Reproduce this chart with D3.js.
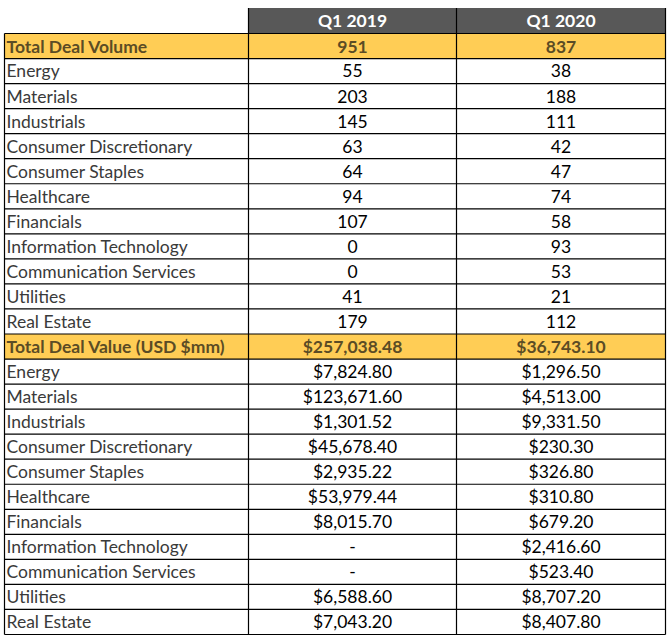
<!DOCTYPE html>
<html><head><meta charset="utf-8">
<script src="https://cdn.jsdelivr.net/npm/d3@7"></script>
<style>body{margin:0;background:#fff;}svg{display:block;}</style>
</head><body>
<script>
const periods = ["Q1 2019", "Q1 2020"];
const sectors = ["Energy","Materials","Industrials","Consumer Discretionary","Consumer Staples","Healthcare","Financials","Information Technology","Communication Services","Utilities","Real Estate"];
const volumeTotal = [951, 837];
const volume2019 = [55,203,145,63,64,94,107,0,0,41,179];
const volume2020 = [38,188,111,42,47,74,58,93,53,21,112];
const valueTotal = [257038.48, 36743.10];
const value2019 = [7824.80,123671.60,1301.52,45678.40,2935.22,53979.44,8015.70,null,null,6588.60,7043.20];
const value2020 = [1296.50,4513.00,9331.50,230.30,326.80,310.80,679.20,2416.60,523.40,8707.20,8407.80];

const fmtVal = v => v == null ? "-" : "$" + d3.format(",.2f")(v);
const fmtVol = v => d3.format(",")(v);

const rows = [];
rows.push({label:"Total Deal Volume", vals: volumeTotal.map(fmtVol), total:true});
sectors.forEach((s,i)=>rows.push({label:s, vals:[fmtVol(volume2019[i]), fmtVol(volume2020[i])]}));
rows.push({label:"Total Deal Value (USD $mm)", vals: valueTotal.map(fmtVal), total:true});
sectors.forEach((s,i)=>rows.push({label:s, vals:[fmtVal(value2019[i]), fmtVal(value2020[i])]}));

const W=670,H=644;
const svg=d3.select("body").append("svg").attr("width",W).attr("height",H);
const xLeft=4.5, c1=248.5, c2=456.5, xRight=665.5;
const yTop=8, headBottom=33.5, yBottom=634.5;
const y=d3.scaleBand().domain(d3.range(rows.length)).range([headBottom,yBottom]);
const colX=d3.scaleOrdinal().domain([0,1]).range([[c1,c2],[c2,xRight]]);
const font="Lato, 'Open Sans', sans-serif";
const fs=17.5;

// header
svg.append("rect").attr("x",c1).attr("y",yTop).attr("width",xRight-c1).attr("height",headBottom-yTop).attr("fill","#585858");
svg.selectAll("text.h").data(periods).join("text").attr("class","h")
 .attr("x",(d,i)=>(colX(i)[0]+colX(i)[1])/2).attr("y",(yTop+headBottom)/2+2)
 .attr("text-anchor","middle").attr("dominant-baseline","middle")
 .attr("font-family",font).attr("font-weight","bold").attr("font-size",fs).attr("fill","#fff").text(d=>d);

const g=svg.selectAll("g.row").data(rows).join("g").attr("class","row");
g.filter(d=>d.total).append("rect").attr("x",xLeft).attr("y",0).attr("width",xRight-xLeft)
 .attr("height",y.bandwidth()).attr("fill","#FFCD55");
g.attr("transform",(d,i)=>`translate(0,${y(i)})`);
g.append("text").attr("x",xLeft+2).attr("y",y.bandwidth()/2+2).attr("dominant-baseline","middle")
 .attr("font-family",font).attr("font-size",fs)
 .attr("font-weight",d=>d.total?"bold":"normal").attr("fill",d=>d.total?"#5b4c25":"#3a3a3a").text(d=>d.label);
[0,1].forEach(k=>{
 g.append("text").attr("x",(colX(k)[0]+colX(k)[1])/2).attr("y",y.bandwidth()/2+2).attr("dominant-baseline","middle")
  .attr("text-anchor","middle").attr("font-family",font).attr("font-size",fs)
  .attr("font-weight",d=>d.total?"bold":"normal").attr("fill",d=>d.total?"#5b4c25":"#000").text(d=>d.vals[k]);
});
// grid lines
const lines=svg.append("g").attr("stroke","#000").attr("stroke-width",1.2);
d3.range(rows.length+1).forEach(i=>{
 const yy=i<rows.length?y(i):yBottom;
 lines.append("line").attr("x1",xLeft).attr("x2",xRight).attr("y1",yy).attr("y2",yy);
});
[xLeft,c1,c2,xRight].forEach(x=>{
 lines.append("line").attr("x1",x).attr("x2",x).attr("y1",x===xLeft?headBottom:yTop).attr("y2",yBottom);
});
</script>
</body></html>
